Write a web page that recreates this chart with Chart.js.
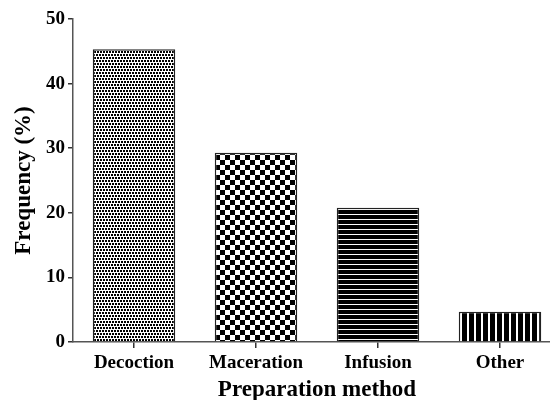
<!DOCTYPE html>
<html>
<head>
<meta charset="utf-8">
<script src="https://cdn.jsdelivr.net/npm/chart.js@4/dist/chart.umd.min.js"></script>
<style>
  html, body { margin: 0; padding: 0; background: #fff; overflow: hidden; }
  #wrap { position: relative; width: 562px; height: 400px; }
</style>
</head>
<body>
<div id="wrap"><canvas id="c" width="562" height="400"></canvas></div>
<script>
// Preparation methods and their frequency (%)
const methods = ['Decoction', 'Maceration', 'Infusion', 'Other'];
const frequency = [45.3, 29.3, 20.8, 4.7];
const yTicks = [0, 10, 20, 30, 40, 50];

// Monochrome fill patterns, one per bar
function makePattern(w, h, draw) {
  const c = document.createElement('canvas');
  c.width = w; c.height = h;
  const g = c.getContext('2d');
  g.fillStyle = '#fff';
  g.fillRect(0, 0, w, h);
  g.fillStyle = '#000';
  draw(g);
  return document.getElementById('c').getContext('2d').createPattern(c, 'repeat');
}
const dots = makePattern(6, 6, g => {
  g.fillRect(0, 0, 2, 2); g.fillRect(3, 0, 2, 2);
  g.fillRect(1, 3, 2, 2); g.fillRect(4, 3, 2, 2);
});
const checker = makePattern(10, 10, g => {
  g.fillRect(0, 0, 5, 5); g.fillRect(5, 5, 5, 5);
});
const hStripes = makePattern(5, 5, g => {
  g.fillRect(0, 0, 5, 4);
});
const vStripes = makePattern(7, 7, g => {
  g.fillRect(0, 0, 5, 7);
});

const serif = '"Liberation Serif", "Times New Roman", serif';

new Chart(document.getElementById('c'), {
  type: 'bar',
  data: {
    labels: methods,
    datasets: [{
      data: frequency,
      backgroundColor: [dots, checker, hStripes, vStripes],
      borderColor: '#222',
      borderWidth: 1.5,
      borderSkipped: 'bottom',
      barPercentage: 0.676,
      categoryPercentage: 1
    }]
  },
  options: {
    responsive: false,
    animation: false,
    devicePixelRatio: 1,
    layout: { padding: { top: 19, right: 1, left: 0, bottom: 0 } },
    plugins: { legend: { display: false }, tooltip: { enabled: false } },
    scales: {
      x: {
        grid: {
          offset: false,
          drawOnChartArea: false,
          drawTicks: true,
          tickLength: 6,
          tickColor: '#333',
          lineWidth: 1.5
        },
        border: { display: true, color: '#555', width: 1.5 },
        ticks: {
          color: '#000',
          padding: 4,
          maxRotation: 0,
          font: { family: serif, size: 19, weight: 'bold' }
        },
        title: {
          display: true,
          text: 'Preparation method',
          color: '#000',
          padding: { top: 0, bottom: 0 },
          font: { family: serif, size: 23, weight: 'bold', lineHeight: 0.9 }
        },
        afterFit: s => { s.height = 58; }
      },
      y: {
        min: 0,
        max: 50,
        afterBuildTicks: s => { s.ticks = yTicks.map(v => ({ value: v })); },
        grid: {
          drawOnChartArea: false,
          drawTicks: true,
          tickLength: 5,
          tickColor: '#333',
          lineWidth: 1.5
        },
        border: { display: true, color: '#555', width: 1.5 },
        ticks: {
          color: '#000',
          padding: 3,
          font: { family: serif, size: 19, weight: 'bold' }
        },
        title: {
          display: true,
          text: 'Frequency (%)',
          color: '#000',
          padding: { top: 11, bottom: 0 },
          font: { family: serif, size: 23, weight: 'bold', lineHeight: 1.1 }
        },
        afterFit: s => { s.width = 73; }
      }
    }
  }
});
</script>
</body>
</html>
